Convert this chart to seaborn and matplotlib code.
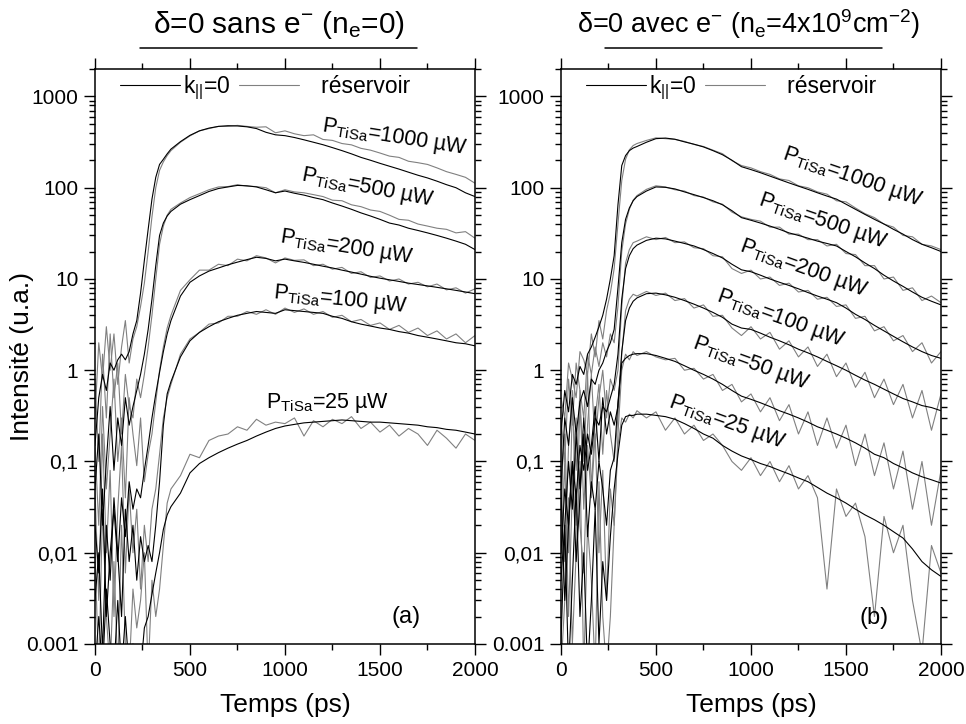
import matplotlib
matplotlib.use("Agg")
import matplotlib.pyplot as plt
import seaborn as sns
import pandas as pd
from matplotlib.lines import Line2D
from matplotlib.ticker import FixedLocator, FixedFormatter, LogLocator, NullFormatter

# ---------------- data ----------------
T = [0, 20, 40, 60, 80, 100, 120, 140, 160, 180, 200, 220, 240, 260, 280, 300,
     320, 340, 360, 380, 400, 450, 500, 550, 600, 650, 700, 750, 800, 850, 900,
     950, 1000, 1050, 1100, 1150, 1200, 1250, 1300, 1350, 1400, 1450, 1500, 1550,
     1600, 1650, 1700, 1750, 1800, 1850, 1900, 1950, 2000]

# panel (a): no electrons
a_1000_k = [0.15, 0.5, 0.9, 0.6, 1.2, 1.0, 1.3, 1.5, 1.3, 1.6, 2.5, 3.5, 7, 16, 35, 75, 130, 180, 205, 235, 265,
            320, 375, 420, 450, 470, 478, 475, 465, 445, 405, 380, 372, 355, 335, 315, 296, 275, 255, 235, 215,
            200, 185, 172, 160, 148, 137, 128, 118, 108, 100, 88, 80]
a_1000_r = [0.3, 2.0, 0.8, 3.0, 1.0, 2.5, 0.7, 1.8, 3.5, 1.2, 2.2, 3.0, 5, 9, 20, 48, 100, 155, 192, 225, 255,
            315, 370, 420, 445, 470, 470, 482, 470, 460, 465, 400, 420, 390, 372, 380, 338, 330, 305, 295, 270,
            258, 240, 222, 215, 195, 188, 180, 165, 150, 140, 130, 112]
a_500_k = [0.05, 0.2, 0.02, 0.1, 0.4, 0.08, 0.3, 0.15, 0.5, 0.25, 0.4, 0.6, 0.9, 1.5, 2.8, 6, 14, 30, 41, 49, 55,
           66, 74, 82, 91, 98, 102, 106, 105, 102, 95, 88, 92, 87, 83, 78, 74, 68, 63, 58, 53,
           49, 45, 41, 39, 36, 34, 32, 30, 28, 26, 24, 21]
a_500_r = [0.8, 0.1, 1.5, 0.3, 2.5, 0.5, 1.2, 0.2, 0.9, 0.4, 0.3, 0.8, 0.5, 0.9, 1.8, 4, 10, 24, 38, 50, 58,
           68, 78, 86, 95, 102, 103, 108, 104, 103, 100, 88, 95, 90, 88, 84, 80, 73, 72, 65, 62,
           57, 55, 50, 45, 44, 40, 38, 36, 35, 32, 33, 28]
a_200_k = [0.02, 0.006, 0.05, 0.002, 0.01, 0.03, 0.008, 0.04, 0.015, 0.06, 0.03, 0.05, 0.04, 0.08, 0.15, 0.3, 0.55,
           0.95, 1.6, 2.5, 3.5,
           6.5, 9.2, 10.8, 12.2, 13.2, 14.3, 15.3, 16.3, 17.3, 16.8, 15.8, 16.5, 15.8, 15.2, 14.5, 13.8, 13.2, 12.5,
           11.9, 11.3, 10.7, 10.2, 9.8, 9.4, 9.0, 8.7, 8.4, 8.1, 7.8, 7.5, 7.2, 6.9]
a_200_r = [0.15, 0.02, 0.4, 0.05, 0.2, 0.8, 0.1, 0.3, 0.04, 0.5, 0.2, 0.09, 0.3, 0.06, 0.12, 0.2, 0.45, 1.0, 1.8,
           2.9, 4.0,
           7.5, 9.8, 12.5, 12.5, 14.5, 14.0, 16.5, 15.8, 18.0, 17.0, 15.0, 17.0, 16.0, 16.2, 14.0, 14.5, 12.8, 13.4,
           11.5, 12.0, 10.4, 10.8, 9.5, 10.0, 8.8, 9.2, 8.2, 8.8, 7.6, 8.0, 7.0, 7.8]
a_100_k = [0.003, 0.01, 0.0008, 0.02, 0.005, 0.04, 0.01, 0.002, 0.03, 0.008, 0.02, 0.005, 0.015, 0.008, 0.012,
           0.008, 0.02, 0.06, 0.25, 0.55, 0.75,
           1.4, 2.1, 2.6, 3.0, 3.4, 3.7, 4.0, 4.2, 4.4, 4.3, 4.2, 4.6, 4.5, 4.4, 4.3, 4.2, 3.9, 3.7, 3.4, 3.2,
           3.05, 2.9, 2.8, 2.65, 2.55, 2.4, 2.3, 2.2, 2.1, 2.0, 1.95, 1.85]
a_100_r = [0.05, 0.003, 0.2, 0.01, 0.08, 0.002, 0.03, 0.15, 0.006, 0.05, 0.01, 0.03, 0.004, 0.02, 0.008, 0.03,
           0.05, 0.12, 0.3, 0.5, 0.7,
           1.5, 2.2, 2.6, 3.2, 3.3, 3.9, 3.9, 4.4, 4.1, 4.6, 4.1, 4.8, 4.3, 4.7, 4.1, 4.4, 3.8, 4.0, 3.4, 3.6,
           3.1, 3.3, 2.8, 3.1, 2.6, 2.9, 2.4, 2.7, 2.2, 2.5, 2.0, 2.4]
a_25_k = [0.0005, 0.002, 0.0005, 0.004, 0.001, 0.0005, 0.003, 0.0005, 0.002, 0.0005, 0.001, 0.0005, 0.0005,
          0.0015, 0.002, 0.0035, 0.006, 0.01, 0.018, 0.026, 0.032,
          0.045, 0.075, 0.095, 0.11, 0.125, 0.14, 0.155, 0.17, 0.19, 0.21, 0.23, 0.245, 0.255, 0.265, 0.27,
          0.275, 0.28, 0.285, 0.28, 0.275, 0.27, 0.27, 0.265, 0.26, 0.255, 0.25, 0.24, 0.235, 0.225, 0.22,
          0.21, 0.2]
a_25_r = [0.01, 0.0005, 0.03, 0.002, 0.0005, 0.008, 0.0005, 0.02, 0.001, 0.0005, 0.004, 0.0015, 0.003, 0.01,
          0.0005, 0.005, 0.002, 0.004, 0.012, 0.035, 0.05,
          0.07, 0.12, 0.11, 0.17, 0.19, 0.2, 0.24, 0.22, 0.29, 0.25, 0.27, 0.26, 0.3, 0.19, 0.28, 0.24, 0.29,
          0.26, 0.31, 0.23, 0.27, 0.21, 0.25, 0.19, 0.23, 0.2, 0.15, 0.22, 0.18, 0.14, 0.2, 0.17]

# panel (b): with electrons
b_1000_k = [0.2, 0.6, 0.35, 0.9, 0.7, 1.1, 0.9, 1.5, 1.8, 2.3, 3.0, 4.0, 6, 10, 18, 65, 175, 225, 255, 272, 283,
            315, 345, 350, 340, 318, 300, 280, 255, 230, 200, 170, 158, 146, 134, 123, 113, 104, 96, 88, 81,
            75, 66, 58, 51, 45, 40, 35, 31, 27, 24, 22, 20]
b_1000_r = [0.5, 0.3, 1.2, 0.8, 0.5, 1.6, 1.3, 0.9, 2.5, 1.4, 3.5, 2.2, 4.5, 7, 13, 40, 120, 205, 260, 290, 305,
            330, 352, 345, 338, 322, 298, 283, 258, 236, 198, 175, 165, 150, 140, 125, 120, 105, 100, 90, 85,
            72, 70, 60, 52, 47, 40, 37, 30, 29, 24, 23, 21]
b_500_k = [0.05, 0.3, 0.15, 0.5, 0.2, 0.45, 0.6, 0.4, 0.8, 0.7, 1.0, 1.2, 1.6, 2.0, 2.8, 8, 25, 45, 60, 72, 80,
           92, 102, 101, 97, 90, 84, 78, 72, 65, 56, 47, 44, 41, 38, 35, 32, 30, 28, 26, 24.5,
           23, 20, 17.5, 15, 13, 11, 9.5, 8.3, 7.2, 6.3, 5.7, 5.2]
b_500_r = [0.3, 0.1, 0.8, 0.25, 1.2, 0.6, 0.3, 1.5, 0.9, 1.8, 1.1, 2.0, 1.4, 2.5, 2.0, 5, 20, 40, 58, 73, 82,
           96, 105, 102, 95, 92, 82, 79, 70, 66, 54, 48, 45, 43, 37, 37, 31, 31, 27, 27, 23,
           24, 19, 18.5, 14, 14, 10, 10.5, 7.5, 8, 5.8, 6.5, 5.5]
b_200_k = [0.01, 0.05, 0.02, 0.1, 0.04, 0.15, 0.08, 0.2, 0.12, 0.3, 0.25, 0.4, 0.35, 0.5, 0.7, 1.5, 6, 13, 18,
           21.5, 23.5,
           26.5, 28, 27.5, 26, 24.5, 23, 21, 19, 17, 14.5, 12.6, 12, 11, 10, 9.2, 8.5, 7.8, 7.1, 6.5, 6.0,
           5.5, 4.8, 4.1, 3.6, 3.1, 2.7, 2.35, 2.05, 1.8, 1.6, 1.45, 1.35]
b_200_r = [0.05, 0.2, 0.01, 0.4, 0.08, 0.6, 0.03, 0.25, 0.9, 0.15, 0.5, 1.0, 0.3, 0.8, 0.6, 1.0, 5, 15, 21, 25, 26,
           29, 27, 28.5, 25, 25.5, 22, 21.5, 18, 17.5, 13, 11.5, 12.5, 10, 10.5, 8.5, 9, 7.2, 7.5, 6, 6.3,
           5, 5.2, 3.7, 3.9, 2.7, 3.0, 2.1, 2.4, 1.6, 2.0, 1.2, 1.6]
b_100_k = [0.005, 0.02, 0.1, 0.03, 0.2, 0.05, 0.3, 0.08, 0.15, 0.4, 0.1, 0.5, 0.2, 0.35, 0.25, 0.4, 1.6, 3.5, 4.8,
           5.7, 6.2,
           6.9, 7.0, 6.7, 6.3, 5.8, 5.3, 4.8, 4.3, 3.8, 3.2, 2.9, 2.8, 2.55, 2.3, 2.1, 1.9, 1.7, 1.55, 1.4, 1.25,
           1.12, 1.0, 0.88, 0.78, 0.7, 0.62, 0.55, 0.49, 0.45, 0.41, 0.39, 0.36]
b_100_r = [0.3, 0.008, 0.15, 0.6, 0.02, 0.4, 0.1, 0.9, 0.05, 0.3, 0.7, 0.12, 0.6, 0.2, 0.1, 0.3, 1.5, 4.5, 6.0,
           6.8, 6.5,
           7.3, 6.6, 7.0, 5.8, 6.1, 4.8, 5.2, 3.9, 4.0, 2.9, 2.4, 3.0, 2.2, 2.6, 1.7, 2.1, 1.4, 1.8, 1.1, 1.5,
           0.85, 1.2, 0.65, 0.95, 0.5, 0.8, 0.42, 0.7, 0.3, 0.6, 0.22, 0.55]
b_50_k = [0.05, 0.003, 0.02, 0.1, 0.008, 0.04, 0.2, 0.015, 0.06, 0.03, 0.1, 0.05, 0.02, 0.08, 0.11, 0.45, 1.2,
          1.35, 1.45, 1.5, 1.52,
          1.52, 1.45, 1.35, 1.25, 1.12, 1.0, 0.9, 0.8, 0.7, 0.6, 0.52, 0.48, 0.44, 0.4, 0.36, 0.33, 0.3, 0.27,
          0.24, 0.22, 0.2, 0.18, 0.16, 0.14, 0.12, 0.11, 0.095, 0.085, 0.075, 0.068, 0.063, 0.058]
b_50_r = [0.01, 0.1, 0.002, 0.05, 0.3, 0.02, 0.006, 0.15, 0.04, 0.2, 0.01, 0.08, 0.003, 0.05, 0.02, 0.2, 1.0,
          1.5, 1.3, 1.6, 1.45,
          1.6, 1.4, 1.3, 1.35, 1.0, 1.05, 0.8, 0.9, 0.6, 0.7, 0.45, 0.55, 0.35, 0.5, 0.28, 0.42, 0.2, 0.35,
          0.15, 0.3, 0.14, 0.25, 0.09, 0.2, 0.07, 0.16, 0.05, 0.13, 0.03, 0.1, 0.02, 0.08]
b_25_k = [0.001, 0.02, 0.0005, 0.005, 0.05, 0.002, 0.01, 0.0005, 0.003, 0.03, 0.001, 0.008, 0.003, 0.015, 0.05,
          0.12, 0.25, 0.31, 0.32, 0.32, 0.33,
          0.33, 0.32, 0.31, 0.29, 0.26, 0.23, 0.2, 0.18, 0.15, 0.13, 0.115, 0.105, 0.095, 0.088, 0.08, 0.073,
          0.066, 0.06, 0.052, 0.045, 0.04, 0.035, 0.03, 0.026, 0.023, 0.02, 0.017, 0.0145, 0.011, 0.008,
          0.0065, 0.0055]
b_25_r = [0.0005, 0.003, 0.04, 0.001, 0.01, 0.1, 0.0005, 0.02, 0.005, 0.0005, 0.06, 0.002, 0.0005, 0.002, 0.02,
          0.15, 0.3, 0.27, 0.33, 0.3, 0.36,
          0.3, 0.35, 0.22, 0.3, 0.2, 0.25, 0.17, 0.2, 0.15, 0.1, 0.08, 0.11, 0.07, 0.1, 0.06, 0.09, 0.05, 0.07,
          0.04, 0.004, 0.05, 0.025, 0.035, 0.015, 0.002, 0.025, 0.01, 0.02, 0.003, 0.0008, 0.012, 0.006]

y_ticks = [0.001, 0.01, 0.1, 1, 10, 100, 1000]
y_tick_labels = ["0.001", "0,01", "0,1", "1", "10", "100", "1000"]
x_ticks = [0, 500, 1000, 1500, 2000]

panel_a = {"1000": (a_1000_k, a_1000_r), "500": (a_500_k, a_500_r), "200": (a_200_k, a_200_r),
           "100": (a_100_k, a_100_r), "25": (a_25_k, a_25_r)}
panel_b = {"1000": (b_1000_k, b_1000_r), "500": (b_500_k, b_500_r), "200": (b_200_k, b_200_r),
           "100": (b_100_k, b_100_r), "50": (b_50_k, b_50_r), "25": (b_25_k, b_25_r)}

KIND_K = "k0"
KIND_R = "res"


def to_frame(panel):
    rows = []
    for p, (k, r) in panel.items():
        for t, v in zip(T, k):
            rows.append((t, v, p, KIND_K))
        for t, v in zip(T, r):
            rows.append((t, v, p, KIND_R))
    return pd.DataFrame(rows, columns=["t", "I", "P", "kind"])


# ---------------- style ----------------
sns.set_style("ticks")
plt.rcParams["font.family"] = ["Liberation Sans", "DejaVu Sans"]
plt.rcParams["mathtext.fontset"] = "custom"
plt.rcParams["mathtext.rm"] = "Liberation Sans"
plt.rcParams["mathtext.it"] = "Liberation Sans:italic"
plt.rcParams["mathtext.bf"] = "Liberation Sans:bold"
plt.rcParams["mathtext.sf"] = "Liberation Sans"
plt.rcParams["axes.linewidth"] = 1.1
for key in ("text.color", "axes.labelcolor", "xtick.color", "ytick.color", "axes.edgecolor"):
    plt.rcParams[key] = "black"

BLACK = "#000000"
GRAY = "#808080"

fig = plt.figure(figsize=(9.66, 7.24), dpi=100)
ax_a = fig.add_axes([0.0983, 0.1105, 0.3934, 0.7942])
ax_b = fig.add_axes([0.5807, 0.1105, 0.3934, 0.7942])

for ax, panel in ((ax_a, panel_a), (ax_b, panel_b)):
    df = to_frame(panel)
    sns.lineplot(data=df, x="t", y="I", hue="kind", units="P", estimator=None,
                 hue_order=[KIND_R, KIND_K], palette={KIND_K: BLACK, KIND_R: GRAY},
                 linewidth=0.8, legend=False, ax=ax)
    ax.set_yscale("log")
    ax.set_ylim(0.001, 2000)
    ax.set_xlim(0, 2000)
    ax.yaxis.set_major_locator(FixedLocator(y_ticks))
    ax.yaxis.set_major_formatter(FixedFormatter(y_tick_labels))
    ax.yaxis.set_minor_locator(LogLocator(base=10, subs=range(2, 10), numticks=20))
    ax.yaxis.set_minor_formatter(NullFormatter())
    ax.xaxis.set_major_locator(FixedLocator(x_ticks))
    ax.xaxis.set_minor_locator(FixedLocator([250, 750, 1250, 1750]))
    ax.tick_params(which="both", direction="out", top=True, right=True, width=1.0,
                   labelsize=15, colors="black")
    ax.tick_params(which="major", length=8, pad=4)
    ax.tick_params(which="minor", length=4)
    ax.set_xlabel("Temps (ps)", fontsize=19)
    ax.xaxis.set_label_coords(0.5, -0.085)
    for s in ax.spines.values():
        s.set_visible(True)
        s.set_color("black")
    handles = [Line2D([], [], color=BLACK, lw=0.8), Line2D([], [], color=GRAY, lw=0.8)]
    ax.legend(handles, [r"k$_{\mathregular{||}}$=0", "   réservoir"], ncol=2, loc="center left",
              bbox_to_anchor=(0.066, 0.967), frameon=False, fontsize=16.5, handlelength=2.6,
              handletextpad=0.15, columnspacing=0.35, borderpad=0, borderaxespad=0)

ax_a.set_ylabel("Intensité (u.a.)", fontsize=19)
ax_a.yaxis.set_label_coords(-0.16, 0.5)
ax_b.set_ylabel("")

# curve annotations
lab_a = [("1000", 0.789, 0.880, -9), ("500", 0.718, 0.793, -11), ("200", 0.663, 0.689, -9),
         ("100", 0.645, 0.598, -6), ("25", 0.611, 0.419, 0)]
lab_b = [("1000", 0.766, 0.812, -19), ("500", 0.688, 0.734, -19), ("200", 0.638, 0.653, -20),
         ("100", 0.579, 0.566, -20), ("50", 0.500, 0.487, -20), ("25", 0.436, 0.385, -20)]
for ax, labs in ((ax_a, lab_a), (ax_b, lab_b)):
    for p, x, y, rot in labs:
        ax.text(x, y, r"P$_{\mathregular{TiSa}}$=" + p + " µW", transform=ax.transAxes,
                ha="center", va="center", rotation=rot, rotation_mode="anchor", fontsize=15.5)

ax_a.text(0.818, 0.047, "(a)", transform=ax_a.transAxes, ha="center", va="center", fontsize=17)
ax_b.text(0.824, 0.045, "(b)", transform=ax_b.transAxes, ha="center", va="center", fontsize=17)

# titles with underline
fig.text(0.289, 0.954, r"δ=0 sans e$^{-}$ (n$_{\mathregular{e}}$=0)", ha="center", va="baseline",
         fontsize=21.5)
fig.text(0.775, 0.954,
         r"δ=0 avec e$^{-}$ (n$_{\mathregular{e}}$=4x10$^{\mathregular{9}}$cm$^{\mathregular{-2}}$)",
         ha="center", va="baseline", fontsize=19.5)
fig.add_artist(Line2D([0.1449, 0.4314], [0.9341, 0.9341], transform=fig.transFigure, color="black", lw=1.1))
fig.add_artist(Line2D([0.6263, 0.9127], [0.9341, 0.9341], transform=fig.transFigure, color="black", lw=1.1))

fig.savefig("out.png", dpi=100)
